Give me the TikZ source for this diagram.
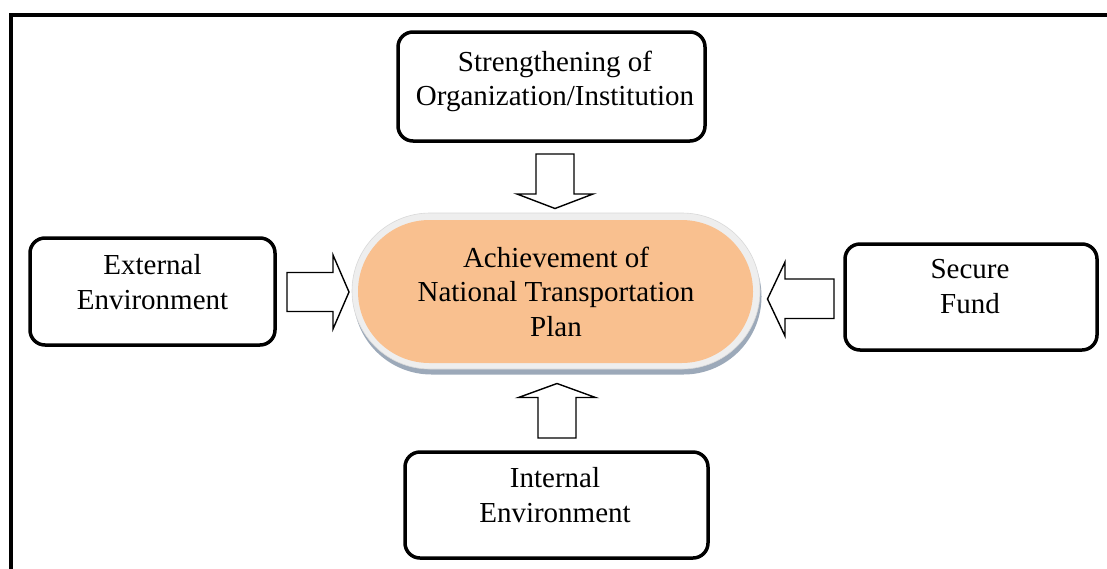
\documentclass[tikz,border=0pt]{standalone}
\usepackage{fontspec}
\setmainfont{Liberation Serif}
\usetikzlibrary{shapes.misc}
\definecolor{orfill}{HTML}{F9C08F}
\definecolor{ringgray}{HTML}{EEEEEE}
\definecolor{shadowblue}{HTML}{9CA9B9}
\tikzset{
  box/.style={draw, line width=3.5pt, rounded corners=15pt, fill=white, inner sep=0pt},
  txt/.style={align=center, font=\fontsize{29}{34.5}\selectfont, inner sep=0pt},
  blockarrow/.style={draw, line width=1.4pt, fill=white, line join=miter},
  pill/.style={rounded rectangle, inner sep=0pt},
}
\begin{document}
\begin{tikzpicture}[x=1pt,y=-1pt]
\useasboundingbox (0,0) rectangle (1107,568);
\clip (0,0) rectangle (1107,568);
\fill[white] (0,0) rectangle (1107,568);
% outer frame
\coordinate (frameBL) at (10.5,600);
\coordinate (frameTR) at (1140,14.5);
\draw[line width=4pt] (frameBL) |- (frameTR);

% boxes
\node[box, minimum width=307pt, minimum height=109pt] (topbox) at (551.5,86.5) {};
\node[box, minimum width=245pt, minimum height=107pt] (leftbox) at (152.5,291.5) {};
\node[box, minimum width=252pt, minimum height=106pt] (rightbox) at (971,297) {};
\node[box, minimum width=303pt, minimum height=106pt] (bottombox) at (556.5,505) {};

\node[txt] (toptext) at (555,81.8) {\strut Strengthening of\\\strut Organization/Institution};
\node[txt] (lefttext) at (152.5,285.3) {\strut External\\\strut Environment};
\node[txt] (righttext) at (970,289.3) {\strut Secure\\\strut Fund};
\node[txt] (bottomtext) at (555,498.1) {\strut Internal\\\strut Environment};

% central pill
\node[pill, fill=shadowblue, minimum width=408pt, minimum height=156pt] (shadow) at (557.5,296.5) {};
\node[pill, fill=ringgray, draw=gray!30, line width=0.6pt, minimum width=408pt, minimum height=156pt] (ring) at (556,291) {};
\node[pill, fill=orfill, minimum width=395pt, minimum height=143pt] (core) at (555.5,291.5) {};
\node[txt] (coretext) at (556,294.8) {\strut Achievement of\\\strut National Transportation\\\strut Plan};

% block arrows
\draw[blockarrow] (536,154) -- (574,154) -- (574,194) -- (593,194) -- (555,208.5) -- (517,194) -- (536,194) -- cycle;
\draw[blockarrow] (538,438) -- (576,438) -- (576,397.5) -- (595.5,397.5) -- (557,383.5) -- (518.5,397.5) -- (538,397.5) -- cycle;
\draw[blockarrow] (287,272.5) -- (333,272.5) -- (333,255) -- (349,292) -- (333,329) -- (333,311.5) -- (287,311.5) -- cycle;
\draw[blockarrow] (834,279) -- (785,279) -- (785,262) -- (767.5,299) -- (785,336) -- (785,318.5) -- (834,318.5) -- cycle;
\end{tikzpicture}
\end{document}
